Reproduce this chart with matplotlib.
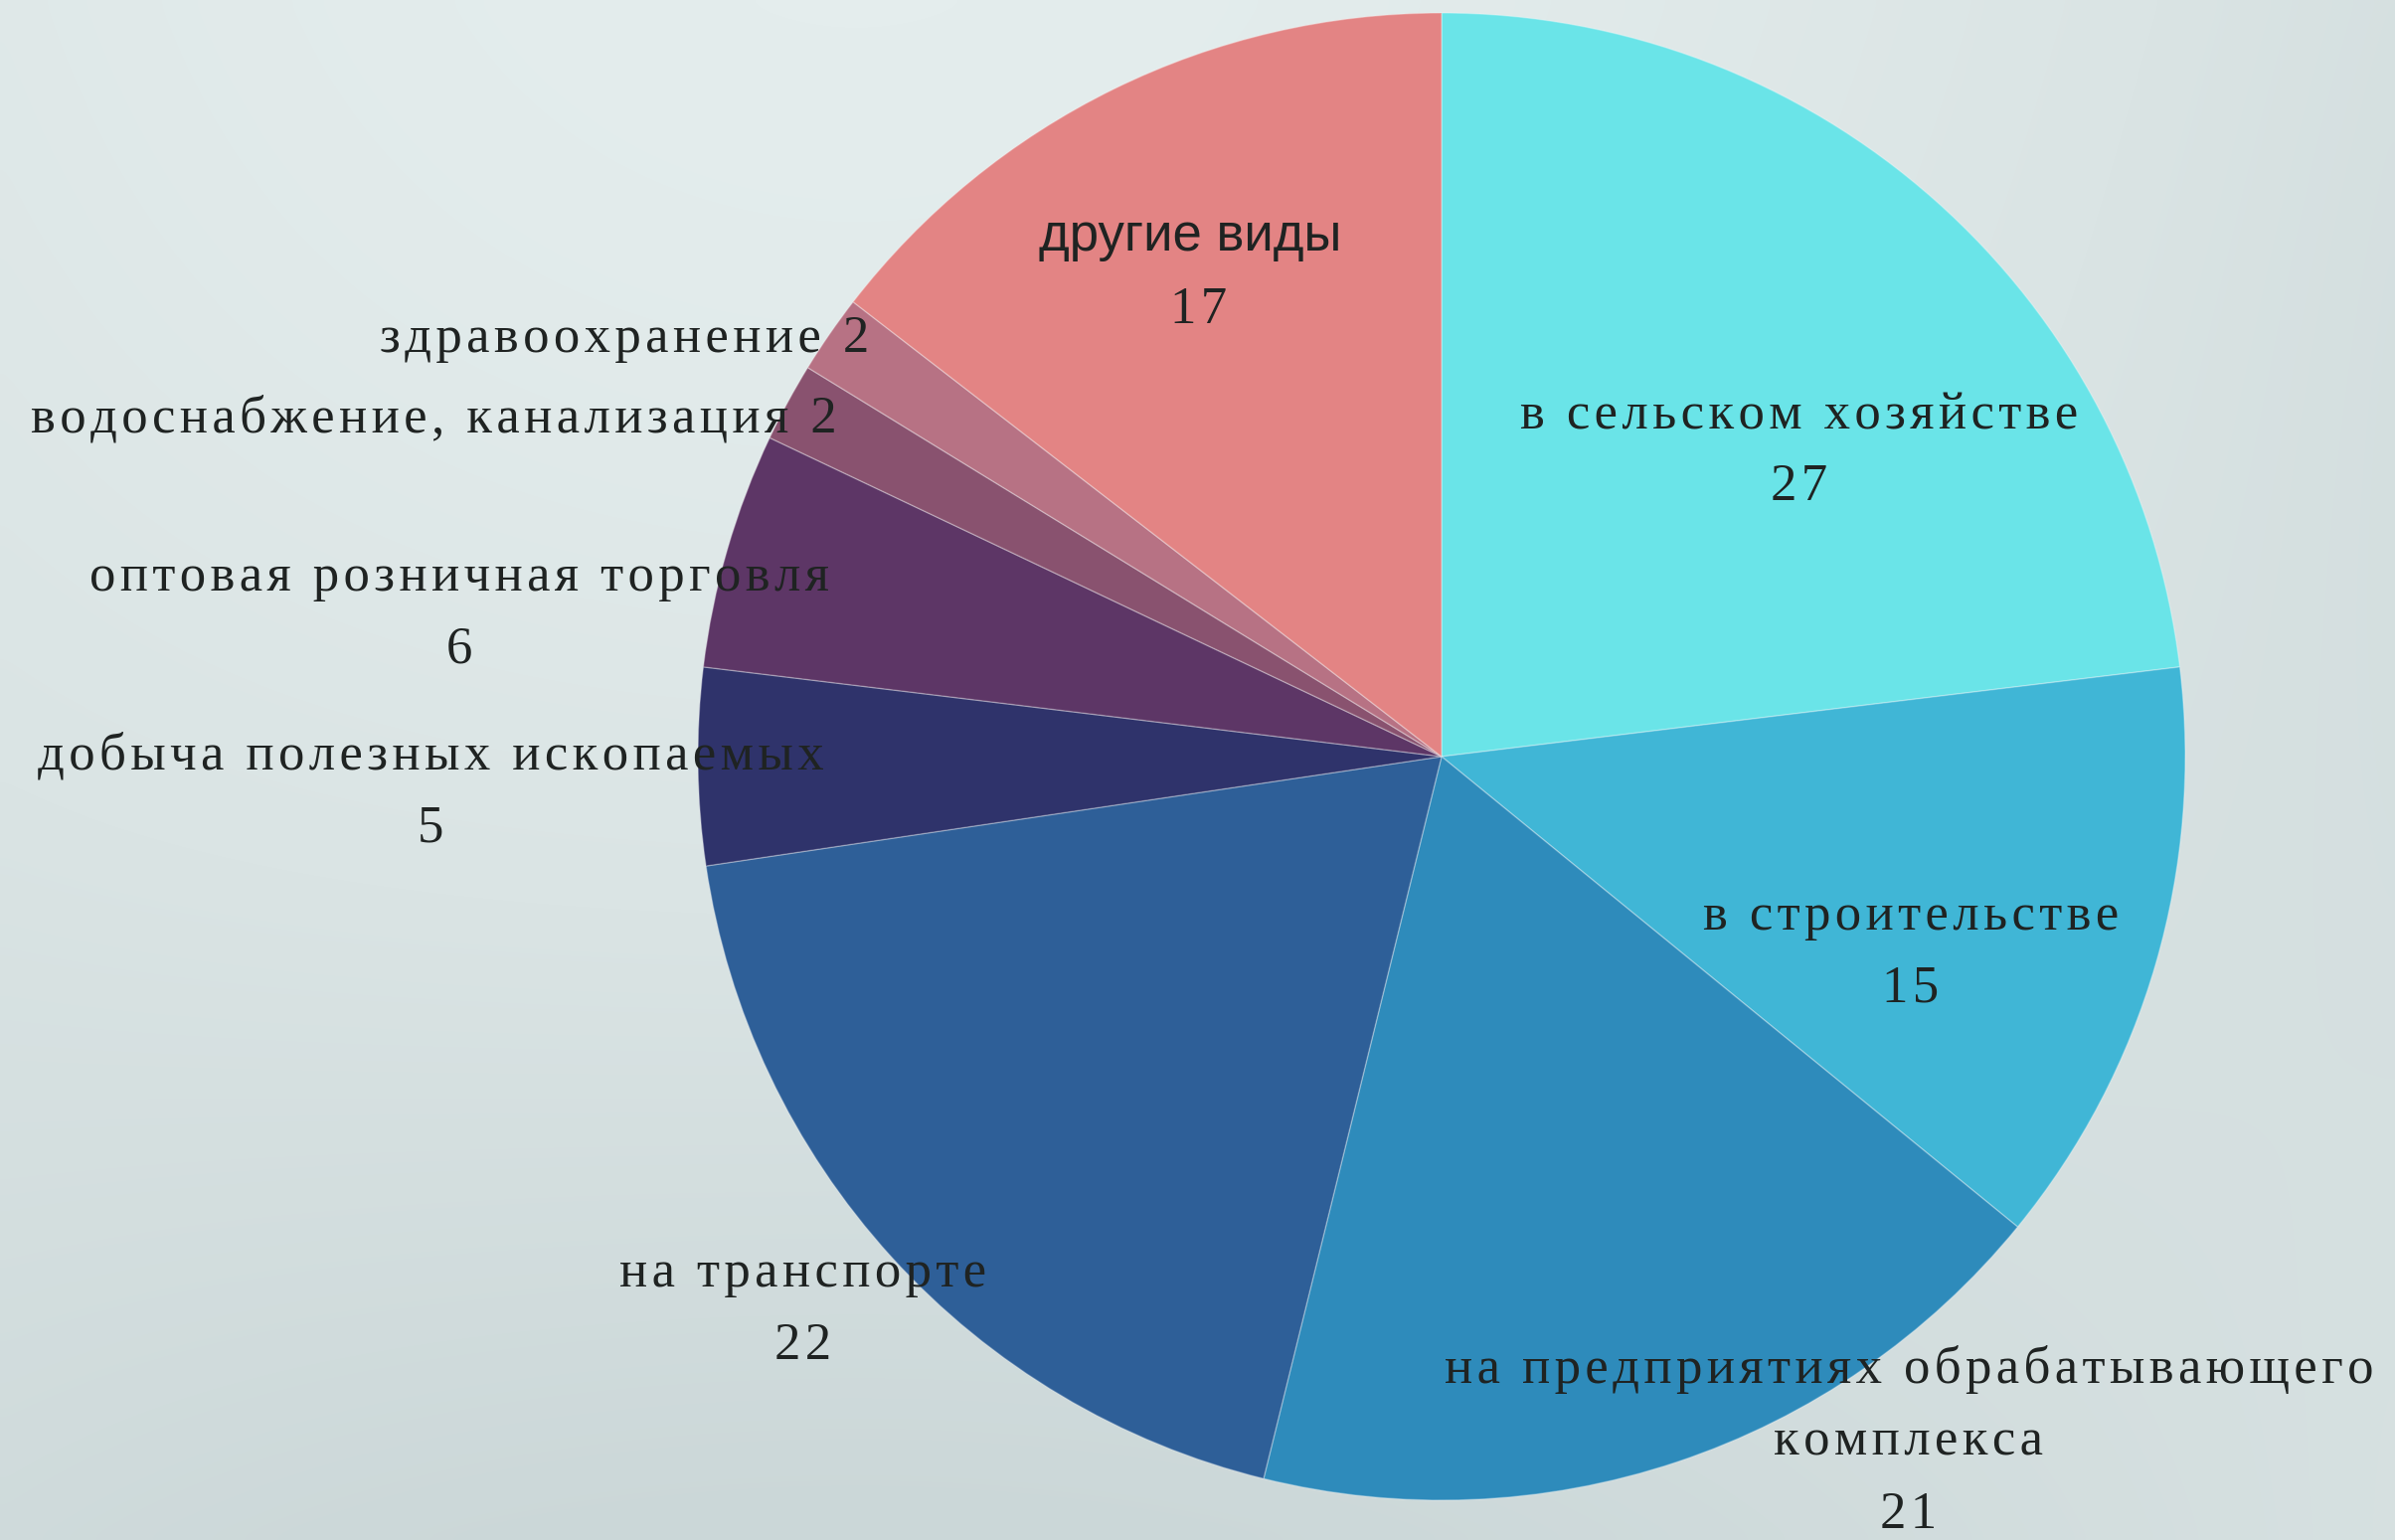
import numpy as np
import matplotlib.pyplot as plt
from matplotlib.colors import LinearSegmentedColormap

# данные диаграммы (по часовой стрелке от 12 часов)
labels = ["в сельском хозяйстве", "в строительстве",
          "на предприятиях обрабатывающего\nкомплекса", "на транспорте",
          "добыча полезных ископаемых", "оптовая розничная торговля",
          "водоснабжение, канализация", "здравоохранение", "другие виды"]
values = [27, 15, 21, 22, 5, 6, 2, 2, 17]
colors = ["#6AE4E8", "#40B6D6", "#2E8BBB", "#2E5F98", "#2F336B",
          "#5D3666", "#89526F", "#B77284", "#E38484"]

W, H = 2409, 1549
CX, CY, R = 1450, 761, 748
SERIF = ["Liberation Serif", "DejaVu Serif"]
SANS = ["Liberation Sans", "DejaVu Sans"]
TXT = "#1F2322"
FS = 38


def y(v):
    # координаты в пикселях сверху -> снизу
    return H - v


def spaced(s):
    # разрядка как в оригинале
    return "\u200a".join(s)


fig = plt.figure(figsize=(W / 100, H / 100), dpi=100)
ax = fig.add_axes([0, 0, 1, 1])

# мягкий светлый фон
gx, gy = np.meshgrid(np.linspace(0, 1, 200), np.linspace(0, 1, 130))
bg = 0.55 + 0.22 * np.sin(gx * 3.0 + 0.5) * np.cos(gy * 2.2) - 0.12 * gy
cmap = LinearSegmentedColormap.from_list("bg", ["#CBD7D8", "#DAE4E4", "#E4EDED"])
ax.imshow(bg, extent=[0, W, 0, H], cmap=cmap, aspect="auto", zorder=0,
          interpolation="bicubic")

ax.pie(values, colors=colors, startangle=90, counterclock=False,
       center=(CX, y(CY)), radius=R, frame=True,
       wedgeprops=dict(edgecolor=(1, 1, 1, 0.3), linewidth=1.0, zorder=2))
ax.set_xlim(0, W)
ax.set_ylim(0, H)
ax.set_aspect("equal")
ax.axis("off")

ax.text(1197, y(238), labels[8], family=SANS, fontsize=38, color=TXT,
        ha="center", va="center", zorder=3)
ax.text(1206, y(312), spaced(str(values[8])), family=SERIF, fontsize=FS,
        color=TXT, ha="center", va="center", zorder=3)

# подписи: (x, y названия, y числа)
pos = [(1810, 418, 490), (1922, 922, 994), (1920, 1378, 1524),
       (808, 1281, 1354), (433, 760, 833), (462, 581, 653)]
for i, (px, ly, vy) in enumerate(pos):
    for j, line in enumerate(labels[i].split("\n")):
        ax.text(px, y(ly + j * 73), spaced(line), family=SERIF, fontsize=FS,
                color=TXT, ha="center", va="center", zorder=3)
    ax.text(px, y(vy), spaced(str(values[i])), family=SERIF, fontsize=FS,
            color=TXT, ha="center", va="center", zorder=3)

ax.text(842, y(421), spaced(f"{labels[6]} {values[6]}"), family=SERIF,
        fontsize=FS, color=TXT, ha="right", va="center", zorder=3)
ax.text(874, y(341), spaced(f"{labels[7]} {values[7]}"), family=SERIF,
        fontsize=FS, color=TXT, ha="right", va="center", zorder=3)

fig.savefig("out.png", dpi=100)
